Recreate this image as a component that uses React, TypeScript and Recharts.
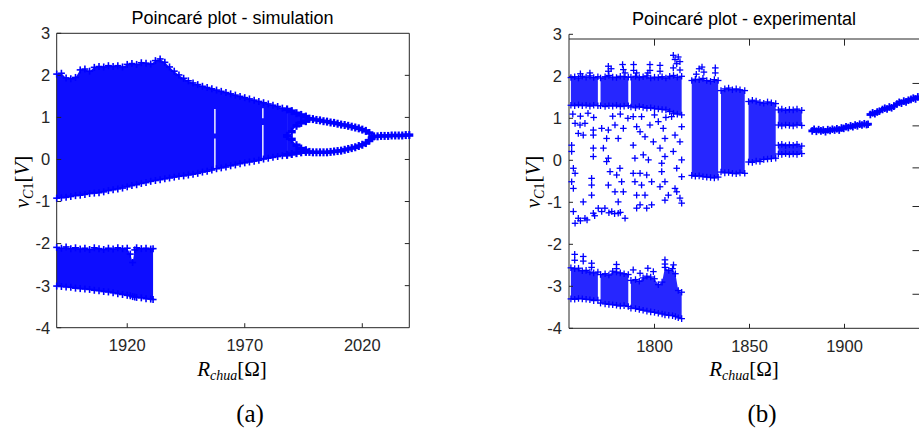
import React from 'react';
import { ComposedChart, Area, Scatter, XAxis, YAxis, ReferenceLine } from 'recharts';

const BLUE = '#0000ff';
const AXIS = '#262626';
const SANS = '"Liberation Sans", Arial, Helvetica, sans-serif';
const SERIF = '"Liberation Serif", "Times New Roman", serif';

type Env = [number, number, number][]; // r, low, high
type Pts = [number, number][]; // r, v

// ---- (a) simulation ----
const simTicksX = [1920, 1970, 2020];
const vTicks = [-4, -3, -2, -1, 0, 1, 2, 3];
const vTicksInner = [-3, -2, -1, 0, 1, 2];

const simBand: Env = [
  [1890, -0.92, 2.03], [1892, -0.91, 2.05], [1894, -0.9, 1.94], [1896, -0.88, 1.92], [1898, -0.86, 1.95],
  [1900, -0.85, 2.13], [1902, -0.83, 2.15], [1904, -0.81, 2.1], [1906, -0.8, 2.19], [1908, -0.79, 2.21],
  [1910, -0.77, 2.2], [1912, -0.74, 2.23], [1914, -0.72, 2.21], [1916, -0.7, 2.23], [1918, -0.68, 2.2],
  [1920, -0.65, 2.26], [1922, -0.62, 2.28], [1924, -0.6, 2.26], [1926, -0.57, 2.3], [1928, -0.55, 2.29],
  [1930, -0.52, 2.27], [1932, -0.5, 2.35], [1934, -0.48, 2.39], [1936, -0.46, 2.31], [1938, -0.44, 2.2],
  [1940, -0.42, 2.1], [1942, -0.4, 2.01], [1944, -0.39, 1.93], [1946, -0.37, 1.87], [1948, -0.35, 1.82],
  [1950, -0.33, 1.78], [1952, -0.3, 1.74], [1954, -0.28, 1.71], [1956, -0.25, 1.68], [1958, -0.22, 1.65],
  [1960, -0.2, 1.62], [1962, -0.18, 1.59], [1964, -0.15, 1.56], [1966, -0.13, 1.53], [1968, -0.1, 1.5],
  [1970, -0.08, 1.47], [1972, -0.06, 1.44], [1974, -0.04, 1.41], [1976, -0.02, 1.38], [1978, 0.01, 1.35],
  [1980, 0.03, 1.32], [1982, 0.05, 1.29], [1984, 0.07, 1.26], [1986, 0.09, 1.22], [1988, 0.11, 1.19],
];

// where the band opens into two branches
const simUpperLobe: Env = [
  [1988, 0.56, 1.19], [1990, 0.66, 1.15], [1992, 0.8, 1.1], [1994, 0.87, 1.06], [1996, 0.91, 1.02],
];
const simLowerLobe: Env = [
  [1988, 0.11, 0.56], [1990, 0.13, 0.48], [1992, 0.15, 0.34], [1994, 0.17, 0.26], [1996, 0.18, 0.22],
];

const simLowBand: Env = [
  [1890, -3.01, -2.09], [1892, -3.02, -2.11], [1894, -3.03, -2.08], [1896, -3.04, -2.12], [1898, -3.06, -2.1],
  [1900, -3.07, -2.13], [1902, -3.08, -2.11], [1904, -3.09, -2.14], [1906, -3.11, -2.1], [1908, -3.12, -2.12],
  [1910, -3.14, -2.14], [1912, -3.15, -2.11], [1914, -3.17, -2.13], [1916, -3.19, -2.1], [1918, -3.21, -2.12],
  [1920, -3.23, -2.11], [1921.3, -3.24, -2.25], [1922.3, -3.26, -2.45], [1923.2, -3.27, -2.15], [1924, -3.28, -2.1],
  [1926, -3.29, -2.12], [1928, -3.31, -2.11], [1930, -3.32, -2.13], [1931, -3.33, -2.12],
];

const simUpperBranch: Pts = [
  [1997.5, 0.97], [1999, 0.96], [2000.5, 0.94], [2002, 0.93], [2003.5, 0.91], [2005, 0.9], [2006.5, 0.88],
  [2008, 0.87], [2009.5, 0.85], [2011, 0.83], [2012.5, 0.82], [2014, 0.8], [2015.5, 0.78], [2017, 0.76],
  [2018.5, 0.74], [2020, 0.71], [2021.5, 0.68], [2023, 0.63],
];

const simLowerBranch: Pts = [
  [1997.5, 0.18], [1999, 0.17], [2000.5, 0.17],
  [2002, 0.17], [2003.5, 0.17], [2005, 0.17], [2006.5, 0.18], [2008, 0.19], [2009.5, 0.2], [2011, 0.21],
  [2012.5, 0.23], [2014, 0.25], [2015.5, 0.27], [2017, 0.29], [2018.5, 0.32], [2020, 0.35], [2021.5, 0.39],
  [2023, 0.45], [2024, 0.51],
];

const simTail: Pts = [
  [2025, 0.55], [2026.5, 0.55], [2028, 0.56], [2029.5, 0.56], [2031, 0.56], [2032.5, 0.57], [2034, 0.57],
  [2035.5, 0.57], [2037, 0.57], [2038.5, 0.58], [2040, 0.58],
];

// thin empty stripes inside the chaotic band: r, from, to
const simGaps: Env = [
  [1957.3, 1.2, 0.62], [1957.3, 0.5, -0.22], [1977.7, 1.22, 0.98], [1977.7, 0.82, 0.04],
];

// ---- (b) experimental ----
const expTicksX = [1800, 1850, 1900];
const expRightTicks = [1.83, 0.82, -0.18, -1.1, -2.15, -3.19];

const expTop: Env[] = [
  [[1756, 1.31, 1.97], [1758, 1.3, 1.99], [1760, 1.32, 1.96], [1762, 1.3, 2.0], [1764, 1.31, 1.98],
   [1766, 1.29, 2.01], [1768, 1.31, 1.97], [1770.2, 1.3, 1.99]],
  [[1771.6, 1.3, 1.96], [1774, 1.28, 1.99], [1776, 1.3, 2.02], [1778, 1.29, 1.98], [1780, 1.31, 1.97],
   [1782, 1.28, 2.0], [1784, 1.29, 1.99], [1786.2, 1.3, 1.98]],
  [[1787.6, 1.27, 1.98], [1790, 1.25, 2.0], [1792, 1.28, 1.97], [1794, 1.26, 1.99], [1796, 1.24, 2.01],
   [1798, 1.25, 1.96], [1800, 1.23, 1.98], [1802, 1.22, 1.97], [1804, 1.21, 1.99], [1806, 1.2, 1.96],
   [1808, 1.16, 2.0], [1810, 1.12, 2.02], [1812, 1.1, 1.98], [1814.3, 1.08, 2.0]],
];

const expLow: Env[] = [
  [[1756, -3.3, -2.56], [1758, -3.31, -2.58], [1760, -3.29, -2.57], [1762, -3.3, -2.63], [1764, -3.31, -2.62],
   [1766, -3.32, -2.66], [1768, -3.34, -2.68], [1770.2, -3.33, -2.66]],
  [[1771.6, -3.4, -2.72], [1774, -3.42, -2.7], [1776, -3.43, -2.73], [1778, -3.44, -2.64], [1780, -3.45, -2.66],
   [1782, -3.47, -2.68], [1784, -3.46, -2.7], [1786.2, -3.48, -2.72]],
  [[1787.6, -3.52, -2.86], [1790, -3.53, -2.84], [1792, -3.55, -2.88], [1794, -3.57, -2.8], [1796, -3.59, -2.76],
   [1798, -3.61, -2.78], [1800, -3.62, -2.82], [1802, -3.64, -2.96], [1804, -3.66, -2.9], [1805.5, -3.68, -2.55],
   [1807.5, -3.69, -2.62], [1809.5, -3.7, -2.58], [1811, -3.72, -2.7], [1812.5, -3.75, -3.1], [1814.3, -3.77, -3.14]],
];

const expMid: Env[] = [
  [[1819.6, -0.36, 1.9], [1821.5, -0.38, 1.93], [1823.5, -0.37, 1.92], [1825.5, -0.39, 1.95], [1827.5, -0.4, 1.9],
   [1829.5, -0.41, 1.88], [1831.5, -0.42, 1.92], [1833.5, -0.4, 1.9]],
  [[1835, -0.28, 1.66], [1837, -0.3, 1.7], [1839, -0.29, 1.72], [1841, -0.31, 1.68], [1843, -0.32, 1.7],
   [1845, -0.3, 1.68], [1847.5, -0.31, 1.66]],
  [[1849.5, -0.04, 1.4], [1851.5, -0.05, 1.43], [1853.5, -0.02, 1.41], [1855.5, -0.03, 1.38], [1857.5, 0.02, 1.36],
   [1859.5, 0.03, 1.39], [1861.5, 0.04, 1.37], [1863.8, 0.05, 1.35]],
  [[1865.2, 0.84, 1.2], [1867, 0.82, 1.22], [1869, 0.84, 1.19], [1871, 0.83, 1.21], [1873, 0.82, 1.2],
   [1875, 0.84, 1.22], [1877.5, 0.83, 1.19]],
  [[1865.2, 0.15, 0.36], [1867, 0.14, 0.38], [1869, 0.16, 0.35], [1871, 0.14, 0.37], [1873, 0.15, 0.36],
   [1875, 0.14, 0.38], [1877.5, 0.16, 0.34]],
];

const expSpikes: Pts = [
  [1761, 2.06], [1766, 2.08], [1775.7, 2.24], [1775.7, 2.12], [1777.2, 2.18], [1783.2, 2.28], [1783.6, 2.16],
  [1784.5, 2.08], [1789, 2.28], [1789, 2.14], [1790.6, 2.08], [1797.6, 2.28], [1797.6, 2.14], [1796.5, 2.08],
  [1802.9, 2.26], [1802.9, 2.12], [1809.9, 2.5], [1810.8, 2.4], [1811.7, 2.3], [1812.5, 2.46], [1813.4, 2.35],
  [1809.9, 2.2], [1813.4, 2.15],
  [1758, -2.24], [1758, -2.38], [1762.5, -2.29], [1762.5, -2.4], [1766.9, -2.45], [1766.9, -2.55], [1780, -2.48],
  [1780, -2.58], [1788.8, -2.61], [1792.4, -2.69], [1796.5, -2.57], [1799.4, -2.65], [1805.5, -2.37],
  [1805.5, -2.47], [1810, -2.49],
  [1822, 2.05], [1823.5, 2.18], [1825, 2.22], [1826, 2.1], [1832, 2.2], [1832, 2.08],
];

const expSparse: Pts = [
  [1758.2, 0.88], [1760.8, 0.84], [1763.4, 0.88], [1759.9, 0.64], [1762.5, 0.6], [1767.8, 0.6], [1767.8, 0.72],
  [1756.4, 0.36], [1756.4, 0.21], [1767.8, 0.29], [1767.8, 0.09], [1757.3, -0.19], [1758.2, -0.31], [1756.4, -0.51],
  [1766.9, -0.43], [1766.9, -0.59], [1757.3, -0.67], [1762.5, -0.99], [1766.9, -0.83], [1770.4, -1.14],
  [1767.8, -1.26], [1757.3, -1.22], [1759.9, -1.38], [1763.4, -1.38], [1758.2, -1.5],
  [1772.2, 0.76], [1775.7, 0.72], [1774.8, 0.52], [1779.2, 0.84], [1780.9, 0.52], [1783.6, 0.76], [1773.1, 0.29],
  [1775.7, 0.05], [1774.8, -0.03], [1776.6, -0.27], [1780.1, -0.35], [1775.7, -0.59], [1781.8, -0.19],
  [1782.7, -0.51], [1783.6, -0.75], [1779.2, -0.75], [1780.9, -0.99], [1773.9, -1.14], [1777.5, -1.22],
  [1780.9, -1.26], [1784.5, -1.38], [1772.2, -1.22],
  [1788.8, 1.04], [1793.2, 1.04], [1790.6, 0.8], [1797.6, 0.84], [1792.4, 0.68], [1795, 0.56], [1799.4, 0.44],
  [1788.8, 0.36], [1794.1, 0.13], [1789.7, 0.05], [1796.8, 0.01], [1788.8, -0.31], [1792.4, -0.31],
  [1795.9, -0.35], [1789.7, -0.51], [1793.2, -0.59], [1798.5, -0.51], [1790.6, -0.83], [1795, -0.83],
  [1792.4, -1.06], [1798.5, -1.06], [1790.6, -1.14], [1795.9, -1.14],
  [1802, 0.92], [1804.6, 0.76], [1805.5, 0.52], [1802.9, 0.29], [1805.5, 0.09], [1803.8, -0.07], [1803.8, -0.27],
  [1805.5, -0.51], [1802.9, -0.63], [1807.3, -0.83], [1805.5, -0.95],
  [1809, 1.04], [1814.3, 0.8], [1810.8, 0.6], [1813.4, 0.44], [1809.9, 0.21], [1814.3, 0.01], [1811.7, -0.19],
  [1814.3, -0.39], [1810.8, -0.67], [1813.4, -0.9], [1814.3, -1.02], [1811.7, -0.75],
  [1757, 1.1], [1761, 1.05], [1765, 1.12], [1768, 1.02], [1778, 1.05], [1782, 1.1], [1786, 1.0], [1800, 1.08],
  [1806, 1.02], [1761, -1.44], [1764.5, -1.42], [1768.5, -1.32], [1776, -1.25], [1779, -1.27], [1782, -1.24],
];

const expBranch1: Pts = [
  [1883, 0.7], [1884, 0.74], [1885.2, 0.69], [1886.4, 0.73], [1887.6, 0.7], [1888.8, 0.72], [1890, 0.68],
  [1891.2, 0.73], [1892.4, 0.71], [1893.6, 0.74], [1894.8, 0.72], [1896, 0.75], [1897.2, 0.72], [1898.4, 0.77],
  [1899.6, 0.76], [1900.8, 0.8], [1902, 0.78], [1903.2, 0.82], [1904.4, 0.8], [1905.6, 0.84], [1906.8, 0.82],
  [1908, 0.86], [1909.2, 0.84], [1910.4, 0.87], [1911.6, 0.85], [1912.4, 0.86],
];

const expBranch2: Pts = [
  [1913.6, 1.09], [1914.8, 1.13], [1916, 1.11], [1917.2, 1.15], [1918.4, 1.17], [1920, 1.21], [1921.2, 1.24],
  [1922.4, 1.22], [1923.6, 1.27], [1924.8, 1.25], [1926, 1.29], [1927.6, 1.34], [1928.8, 1.38], [1930, 1.36],
  [1931.2, 1.41], [1932.4, 1.39], [1933.6, 1.43], [1935, 1.45], [1936.2, 1.48], [1937.4, 1.46], [1938.6, 1.51],
];

// ---- helpers ----
const toBand = (env: Env) => env.map(([r, lo, hi]) => ({ r, band: [lo, hi] }));
const toEdges = (envs: Env[]) => envs.flatMap((env) => env.flatMap(([r, lo, hi]) => [{ r, v: lo }, { r, v: hi }]));
const toPts = (pts: Pts) => pts.map(([r, v]) => ({ r, v }));

const plus = (half: number, hw: number, vw: number) => (p: any) => (
  <g>
    <line x1={p.cx - half} y1={p.cy} x2={p.cx + half} y2={p.cy} stroke={BLUE} strokeWidth={hw} />
    <line x1={p.cx} y1={p.cy - half} x2={p.cx} y2={p.cy + half} stroke={BLUE} strokeWidth={vw} />
  </g>
);

const edgePlus = plus(3.5, 1.6, 1.6);
const thickPlus = plus(4, 3.4, 2.2);
const expPlus = plus(3.3, 1.3, 1.3);
const branchPlus = plus(3.8, 2.8, 1.8);

const axisLine = { stroke: AXIS, strokeWidth: 1 };
const tickText = { fontSize: 16.5, fill: AXIS, fontFamily: SANS };
const blank = () => '';

const SimChart = () => (
  <ComposedChart width={440} height={360} margin={{ top: 32.3, right: 29.7, bottom: 2.3, left: 16.7 }}>
    <XAxis dataKey="r" type="number" domain={[1890, 2040]} ticks={simTicksX} interval={0} height={30}
      tickSize={-4.5} tickMargin={16.5} axisLine={axisLine} tickLine={axisLine} tick={tickText} />
    <XAxis xAxisId="top" orientation="top" type="number" domain={[1890, 2040]} allowDataOverflow ticks={simTicksX}
      interval={0} height={1} tickSize={-4.5} tickFormatter={blank} axisLine={axisLine} tickLine={axisLine} />
    <YAxis dataKey="v" type="number" domain={[-4, 3]} ticks={vTicks} interval={0} width={40}
      tickSize={-4.5} tickMargin={11} axisLine={axisLine} tickLine={axisLine} tick={tickText} />
    <YAxis yAxisId="right" orientation="right" type="number" domain={[-4, 3]} allowDataOverflow ticks={vTicksInner}
      interval={0} width={1} tickSize={-4.5} tickFormatter={blank} axisLine={axisLine} tickLine={axisLine} />
    {[simBand, simUpperLobe, simLowerLobe, simLowBand].map((env, i) => (
      <Area key={i} data={toBand(env)} dataKey="band" type="linear" stroke="none" fill={BLUE} fillOpacity={0.95}
        isAnimationActive={false} />
    ))}
    <Scatter data={toEdges([simBand, simLowBand])} shape={edgePlus} isAnimationActive={false} />
    <Scatter data={toEdges([simUpperLobe, simLowerLobe])} shape={thickPlus} isAnimationActive={false} />
    <Scatter data={toPts(simUpperBranch)} shape={thickPlus} isAnimationActive={false} />
    <Scatter data={toPts(simLowerBranch)} shape={thickPlus} isAnimationActive={false} />
    <Scatter data={toPts(simTail)} shape={thickPlus} isAnimationActive={false} />
    {simGaps.map(([r, a, b], i) => (
      <ReferenceLine key={i} segment={[{ x: r, y: a }, { x: r, y: b }]} stroke="#ffffff" strokeWidth={1.4} />
    ))}
  </ComposedChart>
);

const ExpChart = () => (
  <ComposedChart width={480} height={360} margin={{ top: 34.3, right: 38.5, bottom: 1.7, left: 49 }}>
    <XAxis dataKey="r" type="number" domain={[1755, 1940]} ticks={expTicksX} interval={0} height={30}
      tickSize={-4.5} tickMargin={16.5} axisLine={axisLine} tickLine={axisLine} tick={tickText} />
    <YAxis dataKey="v" type="number" domain={[-4, 3]} ticks={vTicks} interval={0} width={40}
      tickSize={-4} tickMargin={11} axisLine={axisLine} tickLine={axisLine} tick={tickText} />
    <YAxis yAxisId="right" orientation="right" type="number" domain={[-4, 3]} allowDataOverflow ticks={expRightTicks}
      interval={0} width={1} tickSize={-8} tickFormatter={blank} axisLine={axisLine} tickLine={axisLine} />
    {[...expTop, ...expLow, ...expMid].map((env, i) => (
      <Area key={i} data={toBand(env)} dataKey="band" type="linear" stroke="none" fill={BLUE} fillOpacity={0.85}
        isAnimationActive={false} />
    ))}
    <Scatter data={toEdges([...expTop, ...expLow, ...expMid])} shape={expPlus} isAnimationActive={false} />
    <Scatter data={toPts(expSpikes)} shape={expPlus} isAnimationActive={false} />
    <Scatter data={toPts(expSparse)} shape={expPlus} isAnimationActive={false} />
    <Scatter data={toPts(expBranch1)} shape={branchPlus} isAnimationActive={false} />
    <Scatter data={toPts(expBranch2)} shape={branchPlus} isAnimationActive={false} />
    <ReferenceLine y={2.888} stroke={AXIS} strokeWidth={1} />
    {expTicksX.map((t) => (
      <ReferenceLine key={t} segment={[{ x: t, y: 2.888 }, { x: t, y: 2.73 }]} stroke={AXIS} strokeWidth={1} />
    ))}
  </ComposedChart>
);

const YLabel = ({ x, y }: { x: number; y: number }) => (
  <text x={x} y={y} transform={`rotate(-90 ${x} ${y})`} textAnchor="middle" fontFamily={SERIF} fontSize={21} fill="#000">
    <tspan fontStyle="italic">v</tspan>
    <tspan fontSize={14} dy={4} fontStyle="italic">C</tspan>
    <tspan fontSize={14}>1</tspan>
    <tspan dy={-4}>[</tspan>
    <tspan fontStyle="italic">V</tspan>
    <tspan>]</tspan>
  </text>
);

const XLabel = ({ x, y }: { x: number; y: number }) => (
  <text x={x} y={y} textAnchor="middle" fontFamily={SERIF} fontSize={21} fill="#000">
    <tspan fontStyle="italic">R</tspan>
    <tspan fontSize={14} dy={4} fontStyle="italic">chua</tspan>
    <tspan dy={-4}>[Ω]</tspan>
  </text>
);

export default function App() {
  return (
    <div style={{ position: 'absolute', left: 0, top: 0, width: 919, height: 430, overflow: 'hidden', background: '#fff' }}>
      <div style={{ position: 'absolute', left: 0, top: 0 }}>
        <SimChart />
      </div>
      <div style={{ position: 'absolute', left: 480, top: 0 }}>
        <ExpChart />
      </div>
      <svg width={919} height={430} style={{ position: 'absolute', left: 0, top: 0, pointerEvents: 'none' }}>
        <text x={232.5} y={24} textAnchor="middle" fontFamily={SANS} fontSize={18} fill="#000">Poincaré plot - simulation</text>
        <text x={744} y={25} textAnchor="middle" fontFamily={SANS} fontSize={18} fill="#000">Poincaré plot - experimental</text>
        <YLabel x={28.5} y={182} />
        <YLabel x={540} y={182} />
        <XLabel x={232} y={376} />
        <XLabel x={744} y={376} />
        <text x={250} y={422} textAnchor="middle" fontFamily={SERIF} fontSize={25} fill="#000">(a)</text>
        <text x={762} y={422} textAnchor="middle" fontFamily={SERIF} fontSize={25} fill="#000">(b)</text>
      </svg>
    </div>
  );
}
